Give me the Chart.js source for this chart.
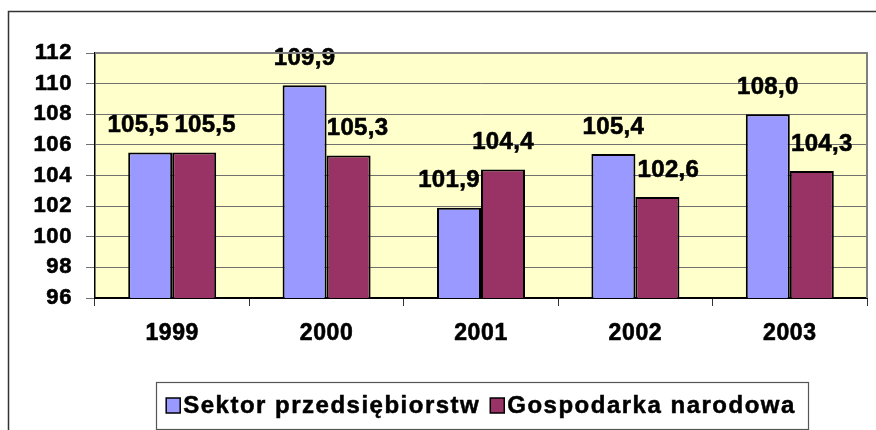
<!DOCTYPE html>
<html>
<head>
<meta charset="utf-8">
<script src="https://cdn.jsdelivr.net/npm/chart.js@4.4.0/dist/chart.umd.min.js"></script>
<style>
  html, body { margin: 0; padding: 0; background: #ffffff; }
  #wrap { width: 876px; height: 430px; position: relative; }
</style>
</head>
<body>
<div id="wrap"><canvas id="c" width="876" height="430"></canvas></div>
<script>
const categories = ['1999', '2000', '2001', '2002', '2003'];
const seriesNames = ['Sektor przedsiębiorstw', 'Gospodarka narodowa'];
const sektorValues = [105.5, 109.9, 101.9, 105.4, 108.0];
const gospodarkaValues = [105.5, 105.3, 104.4, 102.6, 104.3];
const yTicks = [96, 98, 100, 102, 104, 106, 108, 110, 112];
// small horizontal nudges of value labels (as placed in the original to avoid overlap)
const sektorLabelNudge = [-12, 0, -10, 0, 0];
const gospodarkaLabelNudge = [11, 9, 0, 11, 10];

const FONT = '"Liberation Sans", Arial, sans-serif';
const COLORS = ['#9999FF', '#993366'];

const frame = {
  id: 'frame',
  beforeDraw(chart) {
    const { ctx, chartArea: a } = chart;
    ctx.save();
    ctx.fillStyle = '#ffffff';
    ctx.fillRect(0, 0, chart.width, chart.height);
    ctx.strokeStyle = '#333333';
    ctx.lineWidth = 1.5;
    ctx.strokeRect(8.5, 11.5, 1000, 1000);
    ctx.fillStyle = '#FFFFCC';
    ctx.fillRect(a.left, a.top, a.right - a.left, a.bottom - a.top);
    ctx.restore();
    ctx.letterSpacing = '0.6px';
  },
  afterDraw(chart) {
    const { ctx, chartArea: a } = chart;
    ctx.save();
    ctx.strokeStyle = '#808080';
    ctx.lineWidth = 2;
    ctx.beginPath();
    ctx.moveTo(a.left, a.top);
    ctx.lineTo(a.right, a.top);
    ctx.lineTo(a.right, a.bottom);
    ctx.stroke();
    // legend
    ctx.letterSpacing = '1.5px';
    ctx.font = 'bold 24px ' + FONT;
    ctx.textBaseline = 'middle';
    const sq = 14, gap = 3, itemGap = 10;
    const widths = seriesNames.map(n => ctx.measureText(n).width);
    const total = sq + gap + widths[0] + itemGap + sq + gap + widths[1];
    const cx = (a.left + a.right) / 2;
    let x = cx - total / 2;
    const boxTop = 382, boxBottom = 429, cy = 406;
    ctx.strokeStyle = '#555555';
    ctx.lineWidth = 1.2;
    ctx.strokeRect(Math.round(x - 10) + 0.5, boxTop + 0.5, Math.round(total + 22), boxBottom - boxTop);
    seriesNames.forEach((n, i) => {
      ctx.fillStyle = COLORS[i];
      ctx.fillRect(x, cy - 8, sq, 15);
      ctx.strokeStyle = '#000000';
      ctx.lineWidth = 1.5;
      ctx.strokeRect(x, cy - 8, sq, 15);
      ctx.fillStyle = '#000000';
      ctx.textAlign = 'left';
      ctx.lineWidth = 0.5;
      ctx.fillText(n, x + sq + gap, cy);
      ctx.strokeText(n, x + sq + gap, cy);
      x += sq + gap + widths[i] + itemGap;
    });
    ctx.restore();
  }
};

const valueLabels = {
  id: 'valueLabels',
  afterDatasetsDraw(chart) {
    const { ctx } = chart;
    const nudges = [sektorLabelNudge, gospodarkaLabelNudge];
    ctx.save();
    ctx.letterSpacing = '0.3px';
    ctx.font = 'bold 24px ' + FONT;
    ctx.fillStyle = '#000000';
    ctx.strokeStyle = '#000000';
    ctx.lineWidth = 0.6;
    ctx.textAlign = 'center';
    ctx.textBaseline = 'middle';
    chart.data.datasets.forEach((ds, di) => {
      const meta = chart.getDatasetMeta(di);
      meta.data.forEach((bar, i) => {
        const txt = ds.data[i].toFixed(1).replace('.', ',');
        ctx.fillText(txt, bar.x + nudges[di][i], bar.y - 27);
        ctx.strokeText(txt, bar.x + nudges[di][i], bar.y - 27);
      });
    });
    ctx.restore();
  }
};

new Chart(document.getElementById('c'), {
  type: 'bar',
  data: {
    labels: categories,
    datasets: [
      { label: seriesNames[0], data: sektorValues, backgroundColor: COLORS[0], borderColor: '#000000', borderWidth: 2, borderSkipped: 'bottom' },
      { label: seriesNames[1], data: gospodarkaValues, backgroundColor: COLORS[1], borderColor: '#000000', borderWidth: 2, borderSkipped: 'bottom' }
    ]
  },
  options: {
    responsive: false,
    animation: false,
    devicePixelRatio: 1,
    layout: { padding: { top: 53, right: 9, left: 0, bottom: 0 } },
    datasets: { bar: { categoryPercentage: 0.57, barPercentage: 1.0 } },
    plugins: { legend: { display: false }, tooltip: { enabled: false } },
    scales: {
      x: {
        afterFit(s) { s.height = 132; },
        grid: { offset: true, drawOnChartArea: false, tickLength: 8, color: '#333333', lineWidth: 1 },
        border: { display: true, color: '#000000', width: 2 },
        ticks: { padding: 14, color: '#000000', textStrokeColor: '#000000', textStrokeWidth: 0.6, font: { family: FONT, size: 23, weight: 'bold' } }
      },
      y: {
        min: 96, max: 112,
        afterFit(s) { s.width = 95; },
        afterBuildTicks(s) { s.ticks = yTicks.map(v => ({ value: v })); },
        grid: { color: '#707070', lineWidth: 1, tickLength: 9, drawTicks: true },
        border: { display: true, color: '#000000', width: 1.5 },
        ticks: { padding: 14, color: '#000000', textStrokeColor: '#000000', textStrokeWidth: 0.6, font: { family: FONT, size: 22, weight: 'bold' } }
      }
    }
  },
  plugins: [frame, valueLabels]
});
</script>
</body>
</html>
